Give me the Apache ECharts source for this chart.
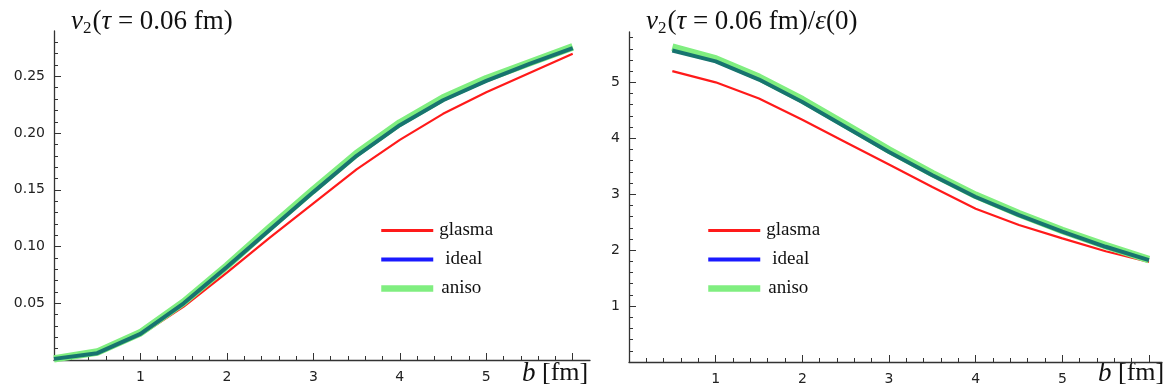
<!DOCTYPE html>
<html>
<head>
<meta charset="utf-8">
<script src="https://cdn.jsdelivr.net/npm/echarts@6/dist/echarts.min.js"></script>
<style>
html, body { margin: 0; padding: 0; background: #fff; }
#chart { width: 1167px; height: 389px; }
</style>
</head>
<body>
<div id="chart"></div>
<script>
// impact parameter b [fm]
const bLeft = [0, 0.5, 1, 1.5, 2, 2.5, 3, 3.5, 4, 4.5, 5, 5.5, 6]
const bRight = [0.5, 1, 1.5, 2, 2.5, 3, 3.5, 4, 4.5, 5, 5.5, 6]

// v2(tau = 0.06 fm)
const v2Glasma = [0.001, 0.006, 0.022, 0.047, 0.077, 0.108, 0.138, 0.168, 0.194, 0.217, 0.236, 0.253, 0.270]
const v2Ideal = [0.001, 0.006, 0.023, 0.050, 0.082, 0.115, 0.148, 0.180, 0.207, 0.229, 0.246, 0.261, 0.275]
const v2Aniso = [0.001, 0.007, 0.024, 0.051, 0.083, 0.117, 0.150, 0.182, 0.209, 0.231, 0.248, 0.262, 0.276]

// v2(tau = 0.06 fm) / eps(0)
const ratioGlasma = [5.20, 5.00, 4.71, 4.33, 3.93, 3.53, 3.13, 2.74, 2.45, 2.21, 1.98, 1.79]
const ratioIdeal = [5.57, 5.375, 5.05, 4.65, 4.20, 3.755, 3.34, 2.95, 2.625, 2.33, 2.06, 1.82]
const ratioAniso = [5.63, 5.42, 5.09, 4.69, 4.24, 3.79, 3.37, 2.98, 2.65, 2.35, 2.08, 1.83]

const xTicks = [0, 1, 2, 3, 4, 5, 6]
const xLabels = [1, 2, 3, 4, 5]
const yTicksLeft = [0, 0.05, 0.10, 0.15, 0.20, 0.25]
const yLabelsLeft = [0.05, 0.10, 0.15, 0.20, 0.25]
const yTicksRight = [0, 1, 2, 3, 4, 5]
const yLabelsRight = [1, 2, 3, 4, 5]

const RED = '#ff1a1a'
const BLUE = '#1a1aff'
const TEAL = '#17746f'
const GREEN = '#80ee80'

const zip = (xs, ys) => xs.map((x, i) => [x, ys[i]])

const chart = echarts.init(document.getElementById('chart'), null, { renderer: 'canvas' })

const serif = 'Liberation Serif, Times New Roman, serif'
const sans = 'DejaVu Sans, sans-serif'

const titleRich = {
    it: { fontFamily: serif, fontStyle: 'italic', fontWeight: 'normal', fontSize: 27, color: '#111' },
    n: { fontFamily: serif, fontWeight: 'normal', fontSize: 27, color: '#111' },
    sub: { fontFamily: serif, fontWeight: 'normal', fontSize: 17, color: '#111', padding: [14, 1, 0, 0] }
}

const axisLine = { onZero: false, lineStyle: { color: '#333', width: 1.3 } }

function xAxis(gridIndex, max) {
    return {
        type: 'value', gridIndex, min: 0, max, interval: 1,
        axisLine,
        axisTick: { inside: true, length: 7, customValues: xTicks, lineStyle: { color: '#333' } },
        minorTick: { show: true, splitNumber: 5, length: 4, lineStyle: { color: '#333' } },
        axisLabel: { customValues: xLabels, margin: 10, fontFamily: sans, fontSize: 14, color: '#222' },
        splitLine: { show: false }
    }
}

function yAxis(gridIndex, max, interval, ticks, labels, fmt) {
    return {
        type: 'value', gridIndex, min: 0, max, interval,
        axisLine,
        axisTick: { inside: true, length: 7, customValues: ticks, lineStyle: { color: '#333' } },
        minorTick: { show: true, splitNumber: 5, length: 4, lineStyle: { color: '#333' } },
        axisLabel: { customValues: labels, margin: 9, fontFamily: sans, fontSize: 14, color: '#222', formatter: fmt },
        splitLine: { show: false }
    }
}

function lines(idx, xs, g, id, an) {
    return [
        { name: 'glasma', type: 'line', xAxisIndex: idx, yAxisIndex: idx, data: zip(xs, g), symbol: 'none',
          lineStyle: { color: RED, width: 2.2 }, itemStyle: { color: RED }, z: 2 },
        { name: 'aniso', type: 'line', xAxisIndex: idx, yAxisIndex: idx, data: zip(xs, an), symbol: 'none',
          lineStyle: { color: GREEN, width: 7.5 }, itemStyle: { color: GREEN }, z: 3 },
        { name: 'ideal', type: 'line', xAxisIndex: idx, yAxisIndex: idx, data: zip(xs, id), symbol: 'none',
          lineStyle: { color: TEAL, width: 4 }, itemStyle: { color: BLUE }, z: 4 }
    ]
}

const noSymbol = { color: 'rgba(0,0,0,0)', borderWidth: 0 }

function legend(left) {
    return {
        orient: 'vertical', left, top: 216, itemWidth: 52, itemHeight: 10, itemGap: 10,
        selectedMode: false,
        textStyle: { fontFamily: serif, fontSize: 19, color: '#111', padding: [0, 0, 0, 1], lineHeight: 16 },
        data: [
            { name: 'glasma', itemStyle: noSymbol, lineStyle: { color: RED, width: 3 } },
            { name: 'ideal', itemStyle: noSymbol, lineStyle: { color: BLUE, width: 4 },
              textStyle: { padding: [0, 0, 0, 7] } },
            { name: 'aniso', itemStyle: noSymbol, lineStyle: { color: GREEN, width: 6.5 },
              textStyle: { padding: [0, 0, 0, 3] } }
        ]
    }
}

const bName = left => ({
    type: 'text', left, top: 360,
    style: { text: '{i|b} [fm]', font: '26px ' + serif, fill: '#111',
        rich: { i: { fontFamily: serif, fontStyle: 'italic', fontSize: 27, fill: '#111' } } }
})

chart.setOption({
    animation: false,
    title: [
        { left: 66, top: 1, text: '{it|v}{sub|2}{n|(}{it|τ}{n| = 0.06 fm)}', textStyle: { rich: titleRich } },
        { left: 641, top: 1, text: '{it|v}{sub|2}{n|(}{it|τ}{n| = 0.06 fm)/}{it|ε}{n|(0)}', textStyle: { rich: titleRich } }
    ],
    legend: [legend(373), legend(700)],
    grid: [
        { left: 54, width: 536, top: 31, bottom: 29 },
        { left: 629, width: 533, top: 32, bottom: 27 }
    ],
    xAxis: [xAxis(0, 6.2), xAxis(1, 6.15)],
    yAxis: [
        yAxis(0, 0.29, 0.05, yTicksLeft, yLabelsLeft, v => v.toFixed(2)),
        yAxis(1, 5.9, 1, yTicksRight, yLabelsRight, v => String(v))
    ],
    graphic: [bName(522), bName(1098)],
    series: [
        ...lines(0, bLeft, v2Glasma, v2Ideal, v2Aniso),
        ...lines(1, bRight, ratioGlasma, ratioIdeal, ratioAniso)
    ]
})
</script>
</body>
</html>
